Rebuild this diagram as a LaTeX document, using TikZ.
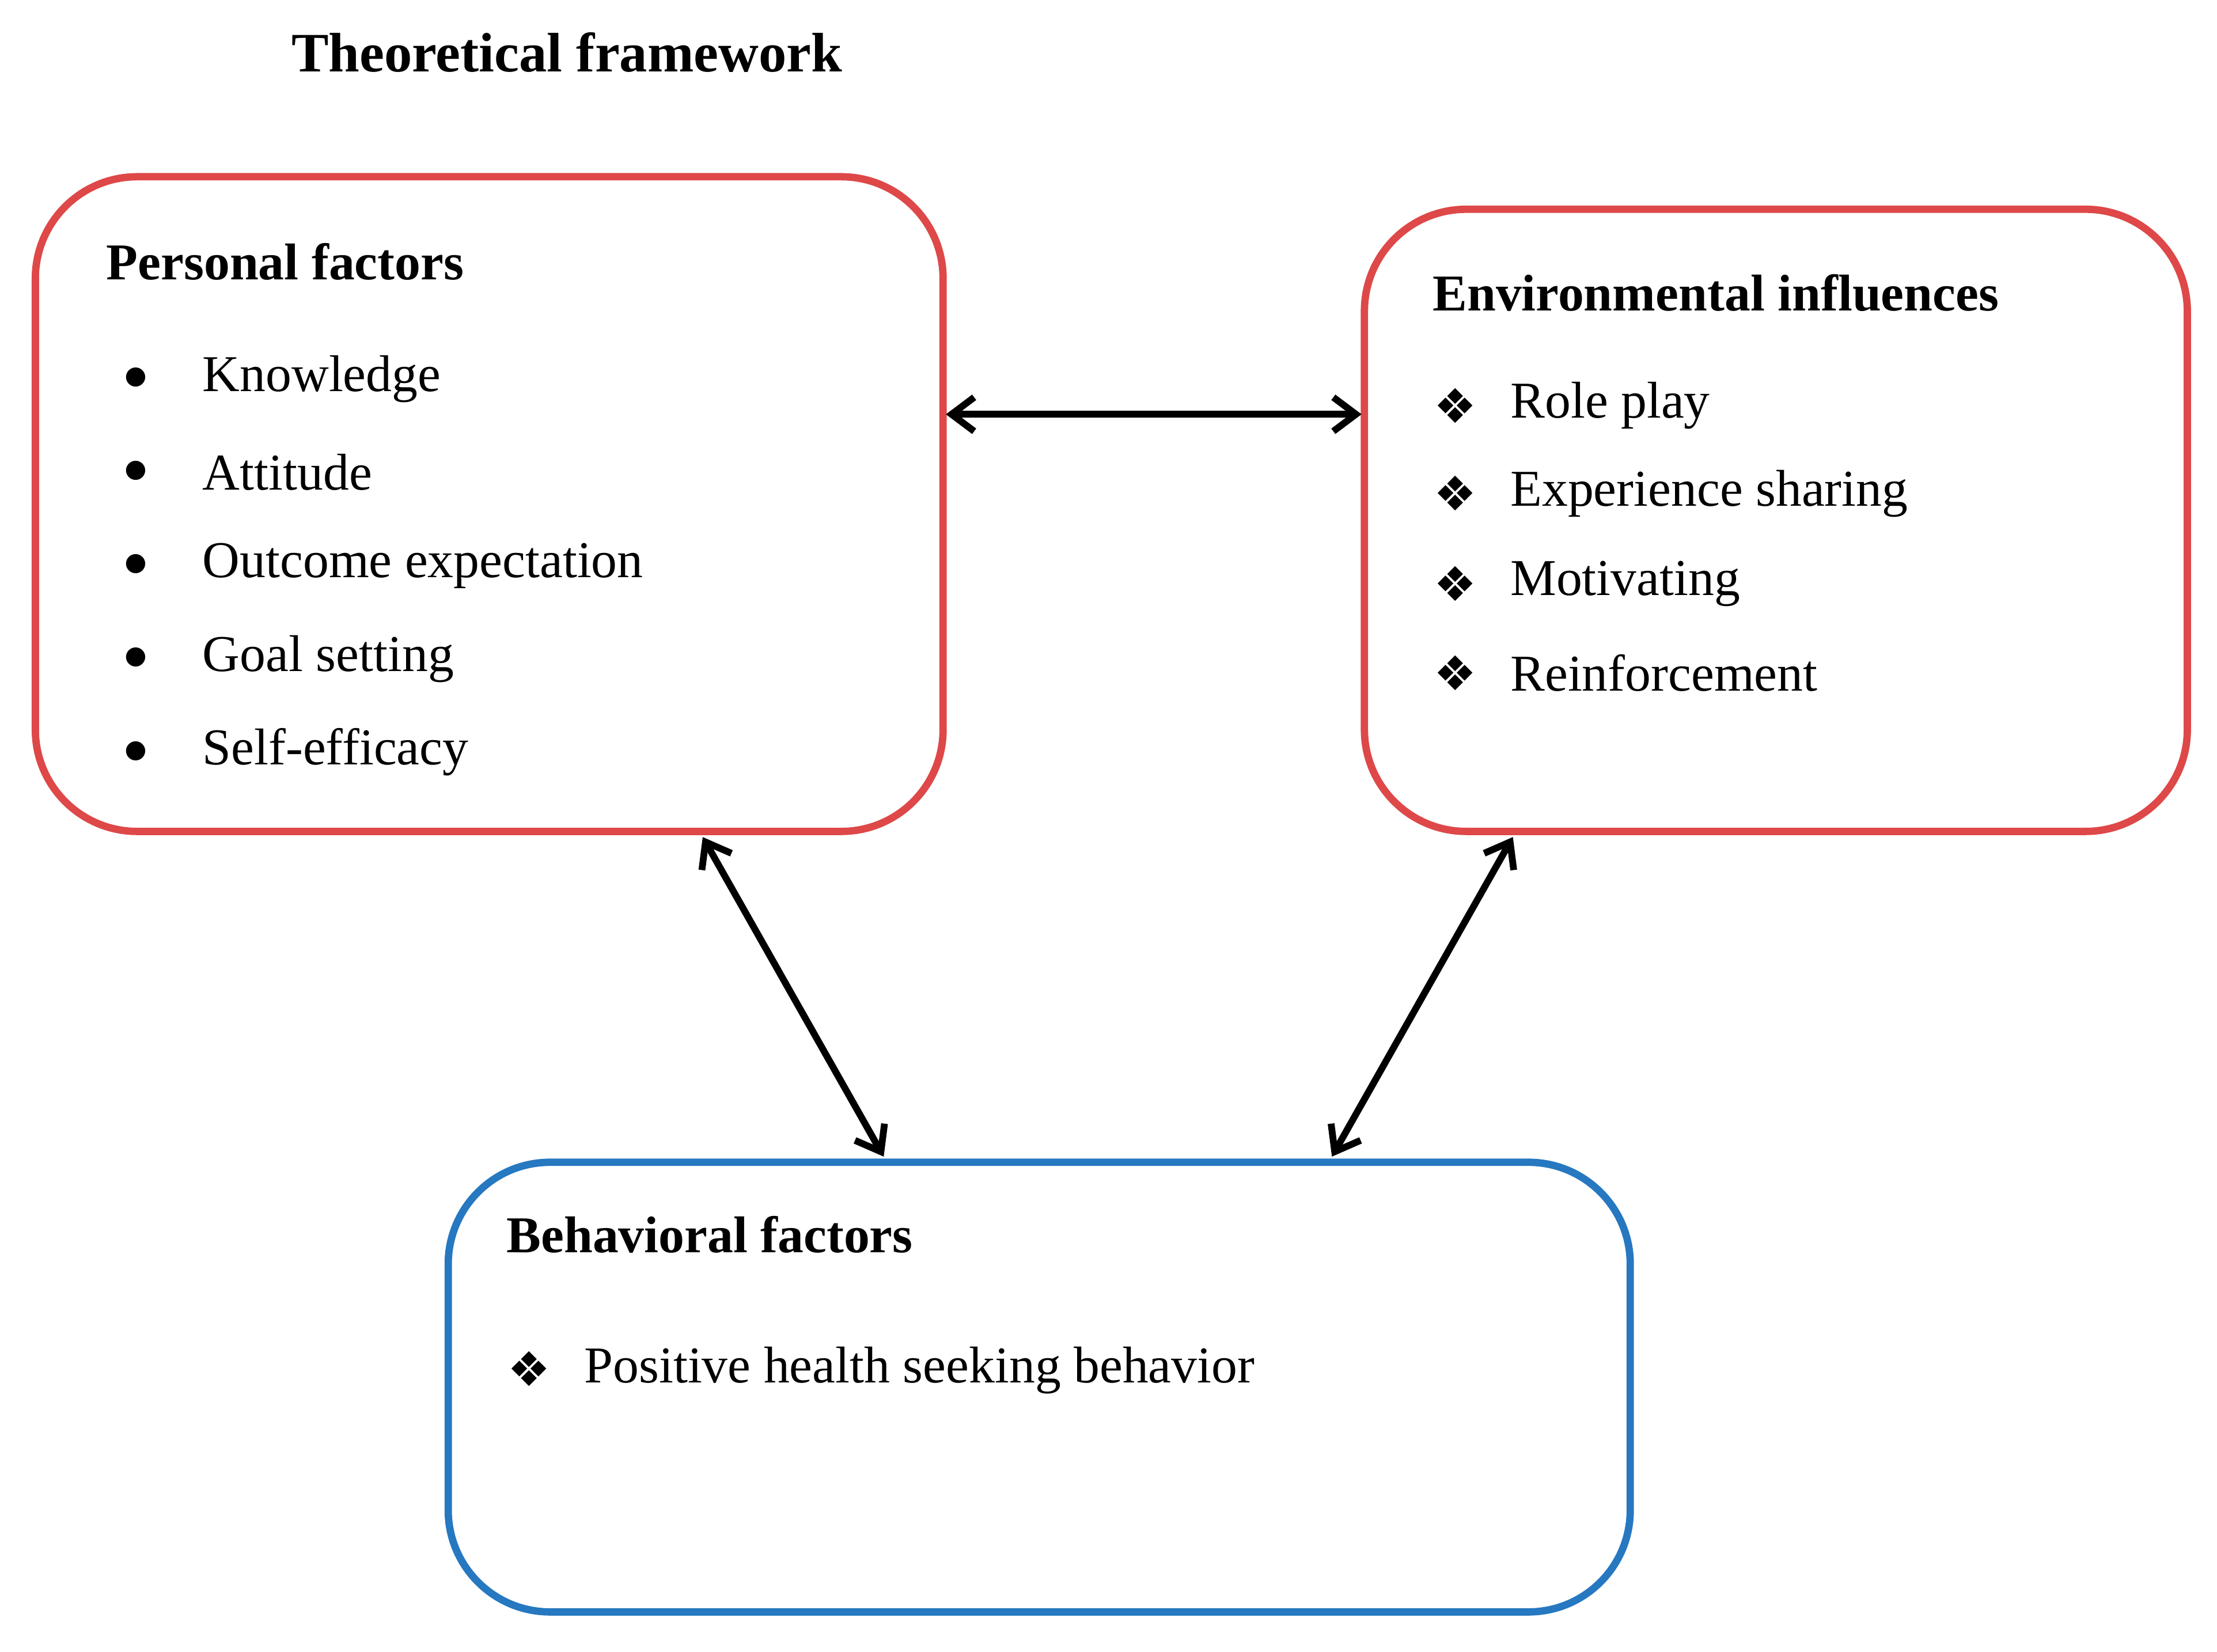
\documentclass[tikz,border=0pt]{standalone}
\usepackage{fontspec}
\setmainfont{Liberation Serif}
\newfontfamily\djfont{DejaVu Sans}
\usetikzlibrary{arrows.meta}
\definecolor{bred}{RGB}{222,72,72}
\definecolor{bblue}{RGB}{38,120,192}
\begin{document}
\begin{tikzpicture}[x=0.25mm,y=-0.25mm,
  box/.style={line width=1.3mm,rounded corners=18mm},
  txt/.style={anchor=west,inner sep=0,font=\fontsize{26pt}{30pt}\selectfont},
  hd/.style={txt,font=\fontsize{26pt}{30pt}\selectfont\bfseries},
  dm/.style={txt,font=\djfont\fontsize{24pt}{28pt}\selectfont},
  con/.style={line width=1.2mm,{Straight Barb[length=4mm,width=6mm]}-{Straight Barb[length=4mm,width=6mm]}}]
\useasboundingbox (0,0) rectangle (1568,1168);
\node[hd,anchor=center,font=\fontsize{28pt}{32pt}\selectfont\bfseries] (title) at (401,37) {Theoretical framework};
\draw[box,bred] (25,125) rectangle (667,588);
\draw[box,bred] (965,148) rectangle (1547,588);
\draw[box,bblue] (317,822) rectangle (1153,1140);
\coordinate (a1) at (669,293); \coordinate (a2) at (963,293);
\coordinate (b1) at (497,592); \coordinate (b2) at (625,818);
\coordinate (c1) at (1070,592); \coordinate (c2) at (942,818);
\draw[con] (a1) -- (a2);
\draw[con] (b1) -- (b2);
\draw[con] (c1) -- (c2);
\node[hd] (pf) at (75,185) {Personal factors};
\foreach \y/\t [count=\i] in {268/Knowledge,334/Attitude,400/Outcome expectation,466/Goal setting,532/Self-efficacy}{
  \node[txt] (pb\i) at (87,\y) {$\bullet$};
  \node[txt] (pi\i) at (143,\y) {\t};
}
\node[hd] (ef) at (1013,207) {Environmental influences};
\foreach \y/\t [count=\i] in {287/Role play,349/Experience sharing,413/Motivating,476/Reinforcement}{
  \node[dm] (eb\i) at (1014,\y) {❖};
  \node[txt] (ei\i) at (1068,\y) {\t};
}
\node[hd] (bf) at (358,873) {Behavioral factors};
\node[dm] (bb1) at (359,968) {❖};
\node[txt] (bi1) at (413,969) {Positive health seeking behavior};
\end{tikzpicture}
\end{document}
